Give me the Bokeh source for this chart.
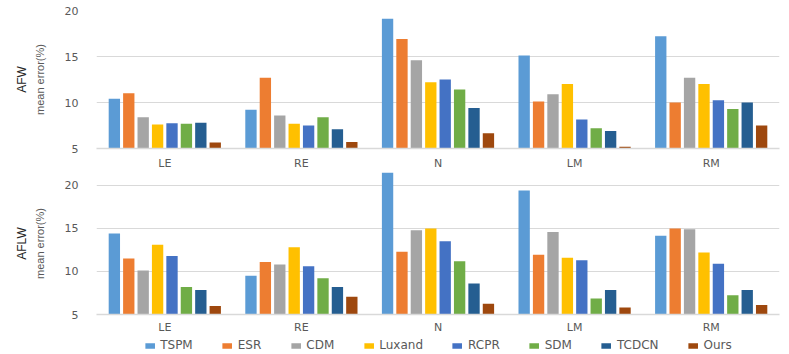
from bokeh.plotting import figure
from bokeh.models import FactorRange, FixedTicker, Legend, LegendItem, Title, ColumnDataSource
from bokeh.transform import dodge
from bokeh.layouts import column
from bokeh.embed import file_html
from bokeh.resources import INLINE

categories = ["LE", "RE", "N", "LM", "RM"]
methods = ["TSPM", "ESR", "CDM", "Luxand", "RCPR", "SDM", "TCDCN", "Ours"]
colors = ["#5B9BD5", "#ED7D31", "#A5A5A5", "#FFC000", "#4472C4", "#70AD47", "#255E91", "#9E480E"]

# AFW mean error (%) per method, order: LE, RE, N, LM, RM
afw_tspm = [10.4, 9.2, 19.1, 15.1, 17.2]
afw_esr = [11.0, 12.7, 16.9, 10.1, 10.0]
afw_cdm = [8.4, 8.6, 14.6, 10.9, 12.7]
afw_luxand = [7.6, 7.7, 12.2, 12.0, 12.0]
afw_rcpr = [7.75, 7.5, 12.5, 8.15, 10.25]
afw_sdm = [7.7, 8.4, 11.4, 7.2, 9.3]
afw_tcdcn = [7.8, 7.1, 9.4, 6.9, 10.0]
afw_ours = [5.65, 5.7, 6.65, 5.2, 7.5]

# AFLW mean error (%)
aflw_tspm = [14.4, 9.5, 21.6, 19.4, 14.15]
aflw_esr = [11.5, 11.1, 12.3, 11.95, 15.0]
aflw_cdm = [10.1, 10.8, 14.8, 14.6, 14.9]
aflw_luxand = [13.1, 12.8, 15.0, 11.6, 12.2]
aflw_rcpr = [11.8, 10.6, 13.5, 11.3, 10.9]
aflw_sdm = [8.2, 9.2, 11.2, 6.85, 7.25]
aflw_tcdcn = [7.85, 8.2, 8.6, 7.85, 7.85]
aflw_ours = [6.0, 7.05, 6.25, 5.8, 6.1]

y_ticks = [5, 10, 15, 20]

afw = [afw_tspm, afw_esr, afw_cdm, afw_luxand, afw_rcpr, afw_sdm, afw_tcdcn, afw_ours]
aflw = [aflw_tspm, aflw_esr, aflw_cdm, aflw_luxand, aflw_rcpr, aflw_sdm, aflw_tcdcn, aflw_ours]

TICK_FONT = "DejaVu Sans"
LABEL_FONT = "Liberation Sans"
GRID = "#D9D9D9"
TEXT = "#595959"
LEFT = 96
W = 789


def make_panel(name, series, y_end, height, min_top, x_standoff):
    p = figure(x_range=FactorRange(factors=categories, range_padding=0),
               y_range=(5, y_end), width=W, height=height,
               output_backend="svg", toolbar_location=None,
               min_border_left=LEFT, min_border_right=0, min_border_top=min_top,
               min_border_bottom=0)
    p.title.visible = False
    p.outline_line_color = None
    src = ColumnDataSource(dict(cat=categories, **{m: s for m, s in zip(methods, series)}))
    pitch = 0.1055
    for i, (m, c) in enumerate(zip(methods, colors)):
        p.vbar(x=dodge("cat", (i - 3.5) * pitch, range=p.x_range), top=m, bottom=5,
               width=0.083, source=src, fill_color=c, line_color=None)

    for ax in (p.xaxis[0], p.yaxis[0]):
        ax.major_tick_out = 0
        ax.major_tick_in = 0
        ax.minor_tick_out = 0
        ax.minor_tick_in = 0
        ax.major_tick_line_color = None
        ax.minor_tick_line_color = None
        ax.major_label_text_font = TICK_FONT
        ax.major_label_text_font_size = "11px"
        ax.major_label_text_color = TEXT

    p.yaxis.ticker = FixedTicker(ticks=y_ticks)
    p.yaxis.axis_line_color = None
    p.yaxis.major_label_standoff = 18
    p.yaxis.axis_label = "mean error(%)"
    p.yaxis.axis_label_text_font = LABEL_FONT
    p.yaxis.axis_label_text_font_size = "11px"
    p.yaxis.axis_label_text_font_style = "normal"
    p.yaxis.axis_label_text_color = TEXT
    p.yaxis.axis_label_standoff = 16

    p.xaxis.axis_line_color = GRID
    p.xaxis.axis_line_width = 1.5
    p.xaxis.major_label_standoff = x_standoff

    p.xgrid.grid_line_color = None
    p.ygrid.grid_line_color = GRID
    p.ygrid.grid_line_width = 1

    p.add_layout(Title(text=name, align="center", text_font=LABEL_FONT,
                       text_font_size="12px", text_font_style="normal",
                       text_color="#262626", standoff=4), "left")
    return p


top = make_panel("AFW", afw, 20, 172, 10, 8)
bottom = make_panel("AFLW", aflw, 21.5, 164, 0, 6)

# legend strip
lg = figure(x_range=(0, 1), y_range=(0, 1), width=W, height=18,
            output_backend="svg", toolbar_location=None,
            min_border_left=LEFT, min_border_right=10, min_border_top=0, min_border_bottom=0)
lg.title.visible = False
lg.outline_line_color = None
lg.axis.visible = False
lg.grid.visible = False
rends = []
for m, c in zip(methods, colors):
    rends.append(lg.vbar(x=[-5.0], top=[-5.0], bottom=-6.0, width=0.1,
                         fill_color=c, line_color=None))
items = [LegendItem(label=m, renderers=[r]) for m, r in zip(methods, rends)]
leg = Legend(items=items, orientation="horizontal", location="center",
             border_line_color=None, background_fill_alpha=0,
             label_text_font=TICK_FONT, label_text_font_size="12px",
             label_text_color=TEXT, glyph_width=12, glyph_height=7,
             label_standoff=5, spacing=28, padding=0, margin=0)
lg.add_layout(leg)

layout = column(top, bottom, lg, spacing=0)
open("out.html", "w").write(file_html(layout, INLINE))
